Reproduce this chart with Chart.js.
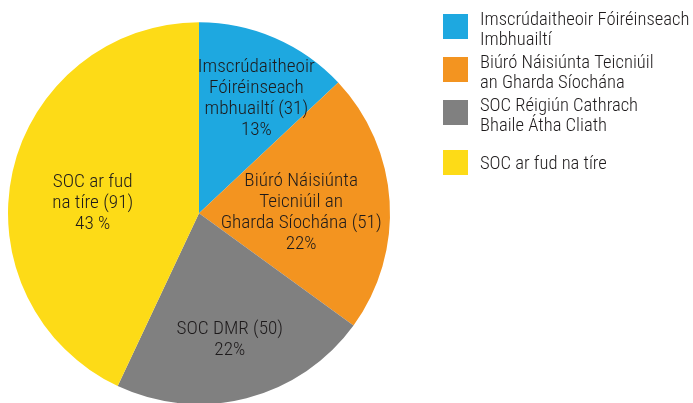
<!DOCTYPE html>
<html>
<head>
<meta charset="utf-8">
<script src="https://cdn.jsdelivr.net/npm/chart.js@4/dist/chart.umd.min.js"></script>
<style>
  html, body { margin: 0; padding: 0; background: #fff; overflow: hidden; }
  #wrap { position: relative; width: 693px; height: 410px; }
</style>
</head>
<body>
<div id="wrap"><canvas id="chart" width="693" height="410"></canvas></div>
<script>
// ---------- DATA ----------
const categories = [
  "Imscrúdaitheoir Fóiréinseach Imbhuailtí",
  "Biúró Náisiúnta Teicniúil an Gharda Síochána",
  "SOC Réigiún Cathrach Bhaile Átha Cliath",
  "SOC ar fud na tíre",
];
const counts = [31, 51, 50, 91];
const percents = [13, 22, 22, 43];
const percentSep = ["", "", "", " "];

// legend text, wrapped as in the original
const legendLines = [
  ["Imscrúdaitheoir Fóiréinseach", "Imbhuailtí"],
  ["Biúró Náisiúnta Teicniúil", "an Gharda Síochána"],
  ["SOC Réigiún Cathrach", "Bhaile Átha Cliath"],
  ["SOC ar fud na tíre"],
];

// slice label name lines (count goes on the last one)
const sliceNames = [
  ["Imscrúdaitheoir", "Fóiréinseach", "mbhuailtí"],
  ["Biúró Náisiúnta", "Teicniúil an", "Gharda Síochána"],
  ["SOC DMR"],
  ["SOC ar fud", "na tíre"],
];

const colors = ["#1EA8E0", "#F39420", "#808080", "#FDDB17"];

// ---------- LABEL PLACEMENT ----------
const FONT = "300 19.2px 'Roboto Condensed', Roboto, sans-serif";
const LEGEND_FONT = "300 18.6px 'Roboto Condensed', Roboto, sans-serif";
const TEXT_COLOR = "#1d1a1b";
// where inside each slice the label block sits: [fraction of the arc, fraction of radius]
const labelSpot = [
  [0.56, 0.68],
  [0.525, 0.535],
  [0.506, 0.67],
  [0.46, 0.56],
];

const sliceLabelPlugin = {
  id: "sliceLabels",
  afterDatasetsDraw(chart) {
    const ctx = chart.ctx;
    const meta = chart.getDatasetMeta(0);
    ctx.save();
    ctx.font = FONT;
    ctx.fillStyle = TEXT_COLOR;
    ctx.textAlign = "center";
    ctx.textBaseline = "alphabetic";
    const lh = 21;
    meta.data.forEach((arc, i) => {
      const p = arc.getProps(["x", "y", "startAngle", "endAngle", "outerRadius"], true);
      const a = p.startAngle + (p.endAngle - p.startAngle) * labelSpot[i][0];
      const r = p.outerRadius * labelSpot[i][1];
      const cx = p.x + Math.cos(a) * r;
      const cy = p.y + Math.sin(a) * r;
      const lines = sliceNames[i].slice();
      lines[lines.length - 1] += " (" + counts[i] + ")";
      lines.push(percents[i] + percentSep[i] + "%");
      // block from cap top of first line to baseline of last line, centred on (cx, cy)
      const cap = 13.5;
      const span = cap + (lines.length - 1) * lh;
      const firstBase = cy - span / 2 + cap;
      lines.forEach((t, k) => ctx.fillText(t, cx, firstBase + k * lh));
    });
    ctx.restore();
  },
};

const sideLegendPlugin = {
  id: "sideLegend",
  afterDraw(chart) {
    const ctx = chart.ctx;
    const boxX = 443, boxSize = 25, textX = 480;
    const boxTops = [14, 57, 100, 150];
    ctx.save();
    ctx.font = LEGEND_FONT;
    ctx.textAlign = "left";
    ctx.textBaseline = "alphabetic";
    legendLines.forEach((lines, i) => {
      ctx.fillStyle = colors[i];
      ctx.fillRect(boxX, boxTops[i], boxSize, boxSize);
      ctx.fillStyle = TEXT_COLOR;
      const first = lines.length > 1 ? boxTops[i] + 10.5 : boxTops[i] + 19;
      lines.forEach((t, k) => ctx.fillText(t, textX, first + k * 20));
    });
    ctx.restore();
  },
};

new Chart(document.getElementById("chart"), {
  type: "pie",
  data: {
    labels: categories,
    datasets: [
      {
        data: percents,
        backgroundColor: colors,
        borderWidth: 0,
      },
    ],
  },
  options: {
    responsive: false,
    animation: false,
    layout: { padding: { left: 8, top: 22, right: 303, bottom: 5.5 } },
    plugins: {
      legend: { display: false },
      tooltip: { enabled: false },
    },
  },
  plugins: [sliceLabelPlugin, sideLegendPlugin],
});
</script>
</body>
</html>
